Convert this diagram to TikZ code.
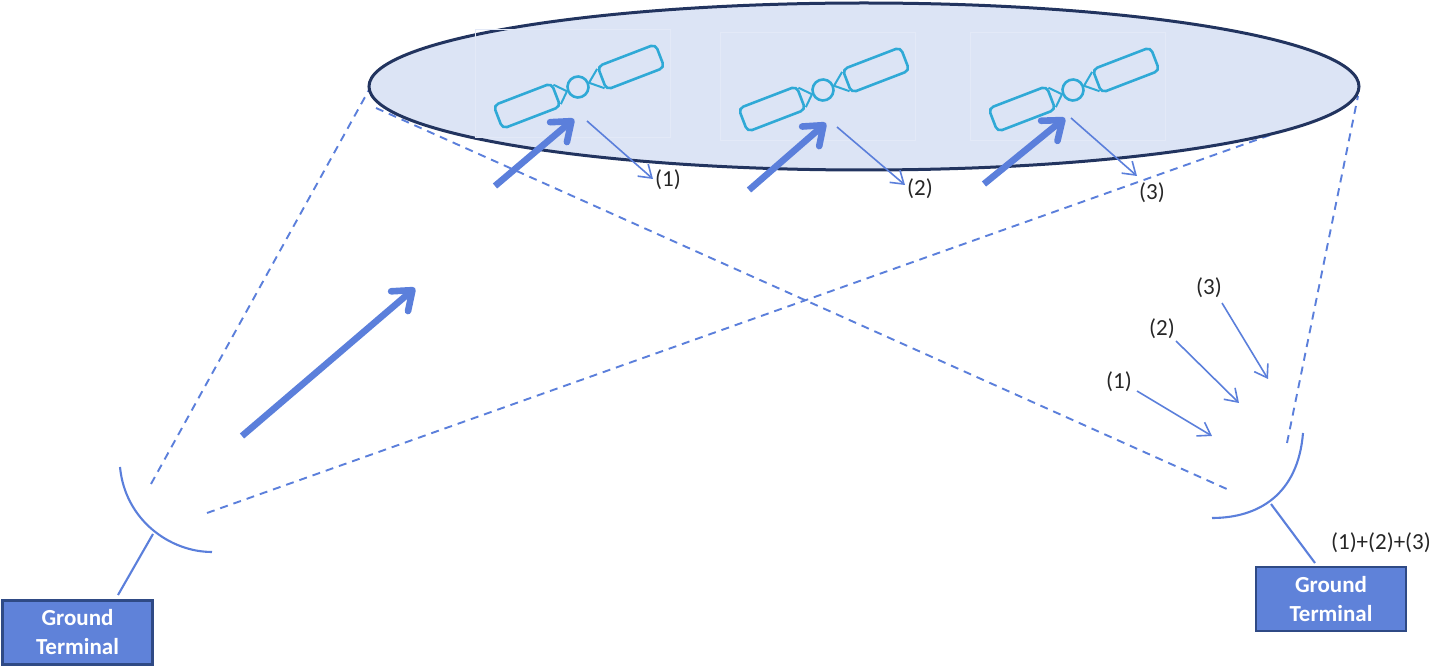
\documentclass[tikz,border=0pt]{standalone}
\usepackage{fontspec}
\setmainfont{Carlito}
\usetikzlibrary{arrows.meta,shapes.geometric,calc}
\definecolor{beamc}{HTML}{5B7FDB}
\definecolor{discfill}{HTML}{DCE4F5}
\definecolor{discborder}{HTML}{22345F}
\definecolor{satc}{HTML}{2FA9D6}
\definecolor{framec}{HTML}{E3E9F7}
\definecolor{gtfill}{HTML}{5F82D9}
\definecolor{gtborder}{HTML}{2F4A85}
\definecolor{labelfg}{HTML}{262626}

\begin{document}
\begin{tikzpicture}[
  x=0.5pt, y=-0.5pt,
  font=\fontsize{11.5}{13}\selectfont,
  disc/.style={
    draw=discborder,
    fill=discfill,
    line width=1.5pt,
    ellipse,
    inner sep=0pt,
    minimum width=495pt,
    minimum height=83.5pt
  },
  satframe/.style={
    draw=framec,
    line width=0.4pt,
    minimum width=97.5pt,
    minimum height=54pt,
    inner sep=0pt
  },
  panel/.style={
    draw=satc,
    line width=1.3pt,
    rounded corners=2.5pt,
    rotate=21,
    minimum width=31pt,
    minimum height=12.5pt,
    inner sep=0pt
  },
  satbody/.style={
    draw=satc,
    line width=1.3pt,
    circle,
    rotate=21,
    minimum size=10.5pt,
    inner sep=0pt
  },
  strut/.style={draw=satc, line width=1pt},
  gt/.style={
    draw=gtborder,
    fill=gtfill,
    line width=1.3pt,
    minimum width=75pt,
    minimum height=32pt,
    inner sep=0pt,
    align=center,
    text=white,
    font=\fontsize{11.5}{14.5}\selectfont\bfseries
  },
  thick arr/.style={
    -{Straight Barb[length=8.5pt,width=13pt,round]},
    line width=3.3pt,
    draw=beamc
  },
  thin arr/.style={
    -{Straight Barb[length=6pt,width=8pt]},
    line width=0.8pt,
    draw=beamc
  },
  cone/.style={dash pattern=on 4pt off 3pt, line width=0.95pt, draw=beamc},
  dish/.style={line width=1.05pt, draw=beamc},
  lbl/.style={text=labelfg, inner sep=0pt}
]
\useasboundingbox (0,0) rectangle (1432,668);

% --- Coverage cones ---
\coordinate (coneLa) at (151,484);
\coordinate (coneLb) at (207,513);
\coordinate (coneRa) at (1287,443);
\coordinate (coneRb) at (1229,490);
\coordinate (footA) at (370,88);
\coordinate (footB) at (376,108);
\coordinate (footC) at (1290,128);
\coordinate (footD) at (1358,96);
\draw[cone] (coneLa) -- (footA);
\draw[cone] (footB) -- (coneRb);
\draw[cone] (coneLb) -- (footC);
\draw[cone] (coneRa) -- (footD);

% --- Footprint ---
\node[disc] (footprint) at (864,86.5) {};

% --- Ground terminals ---
\node[gt] (gtleft) at (77.5,632.5) {Ground\\Terminal};
\node[gt] (gtright) at (1331,599) {Ground\\Terminal};

% --- Dishes ---
\coordinate (dishLa) at (120,467);
\coordinate (dishLb) at (212,552);
\coordinate (dishLc) at (153,534);
\coordinate (gtLc) at (118,595);
\coordinate (dishRa) at (1303,433);
\coordinate (dishRb) at (1212,518);
\coordinate (dishRc) at (1271,504);
\coordinate (gtRc) at (1315,563);
\draw[dish] (dishLa) .. controls (125,520) and (170,552) .. (dishLb);
\draw[dish] (dishRa) .. controls (1298,495) and (1258,518) .. (dishRb);
\draw[dish] (dishLc) -- (gtLc);
\draw[dish] (dishRc) -- (gtRc);

% --- Satellites ---
\foreach \n/\sx/\sy in {1/578/87, 2/823/90, 3/1073/90} {
  \node[satframe] (frame\n) at (\sx-5.5,\sy-4) {};
  \node[satbody] (body\n) at (\sx,\sy) {};
  \node[panel] (pl\n) at (\sx-51,\sy+19) {};
  \node[panel] (pr\n) at (\sx+53,\sy-20) {};
  \draw[strut] ($(pl\n.east)!0.75!(pl\n.north east)$) -- (body\n.west) -- ($(pl\n.east)!0.75!(pl\n.south east)$);
  \draw[strut] ($(pr\n.west)!0.75!(pr\n.north west)$) -- (body\n.east) -- ($(pr\n.west)!0.75!(pr\n.south west)$);
}

% --- Uplink arrows ---
\coordinate (upAa) at (495,186);
\coordinate (upAb) at (574,119);
\coordinate (upBa) at (749,190);
\coordinate (upBb) at (826,123);
\coordinate (upCa) at (984,184);
\coordinate (upCb) at (1065,118);
\coordinate (upMa) at (242,436);
\coordinate (upMb) at (415,288);
\draw[thick arr] (upAa) -- (upAb);
\draw[thick arr] (upBa) -- (upBb);
\draw[thick arr] (upCa) -- (upCb);
\draw[thick arr] (upMa) -- (upMb);

% --- Retransmitted signals ---
\node[lbl] (sigA) at (668,180) {(1)};
\node[lbl] (sigB) at (920,189) {(2)};
\node[lbl] (sigC) at (1152,193) {(3)};
\coordinate (sigAs) at (587,121);
\coordinate (sigAe) at (653,179);
\coordinate (sigBs) at (837,127);
\coordinate (sigBe) at (905,185);
\coordinate (sigCs) at (1071,118);
\coordinate (sigCe) at (1137,176);
\draw[thin arr] (sigAs) -- (sigAe);
\draw[thin arr] (sigBs) -- (sigBe);
\draw[thin arr] (sigCs) -- (sigCe);

% --- Signals at the receiver ---
\node[lbl] (rxA) at (1119,382) {(1)};
\node[lbl] (rxB) at (1162,329) {(2)};
\node[lbl] (rxC) at (1209,288) {(3)};
\coordinate (rxAs) at (1137,391);
\coordinate (rxAe) at (1212,436);
\coordinate (rxBs) at (1176,341);
\coordinate (rxBe) at (1239,403);
\coordinate (rxCs) at (1222,303);
\coordinate (rxCe) at (1268,379);
\draw[thin arr] (rxAs) -- (rxAe);
\draw[thin arr] (rxBs) -- (rxBe);
\draw[thin arr] (rxCs) -- (rxCe);

\node[lbl] (rxsum) at (1381,543) {(1)+(2)+(3)};

\end{tikzpicture}
\end{document}
